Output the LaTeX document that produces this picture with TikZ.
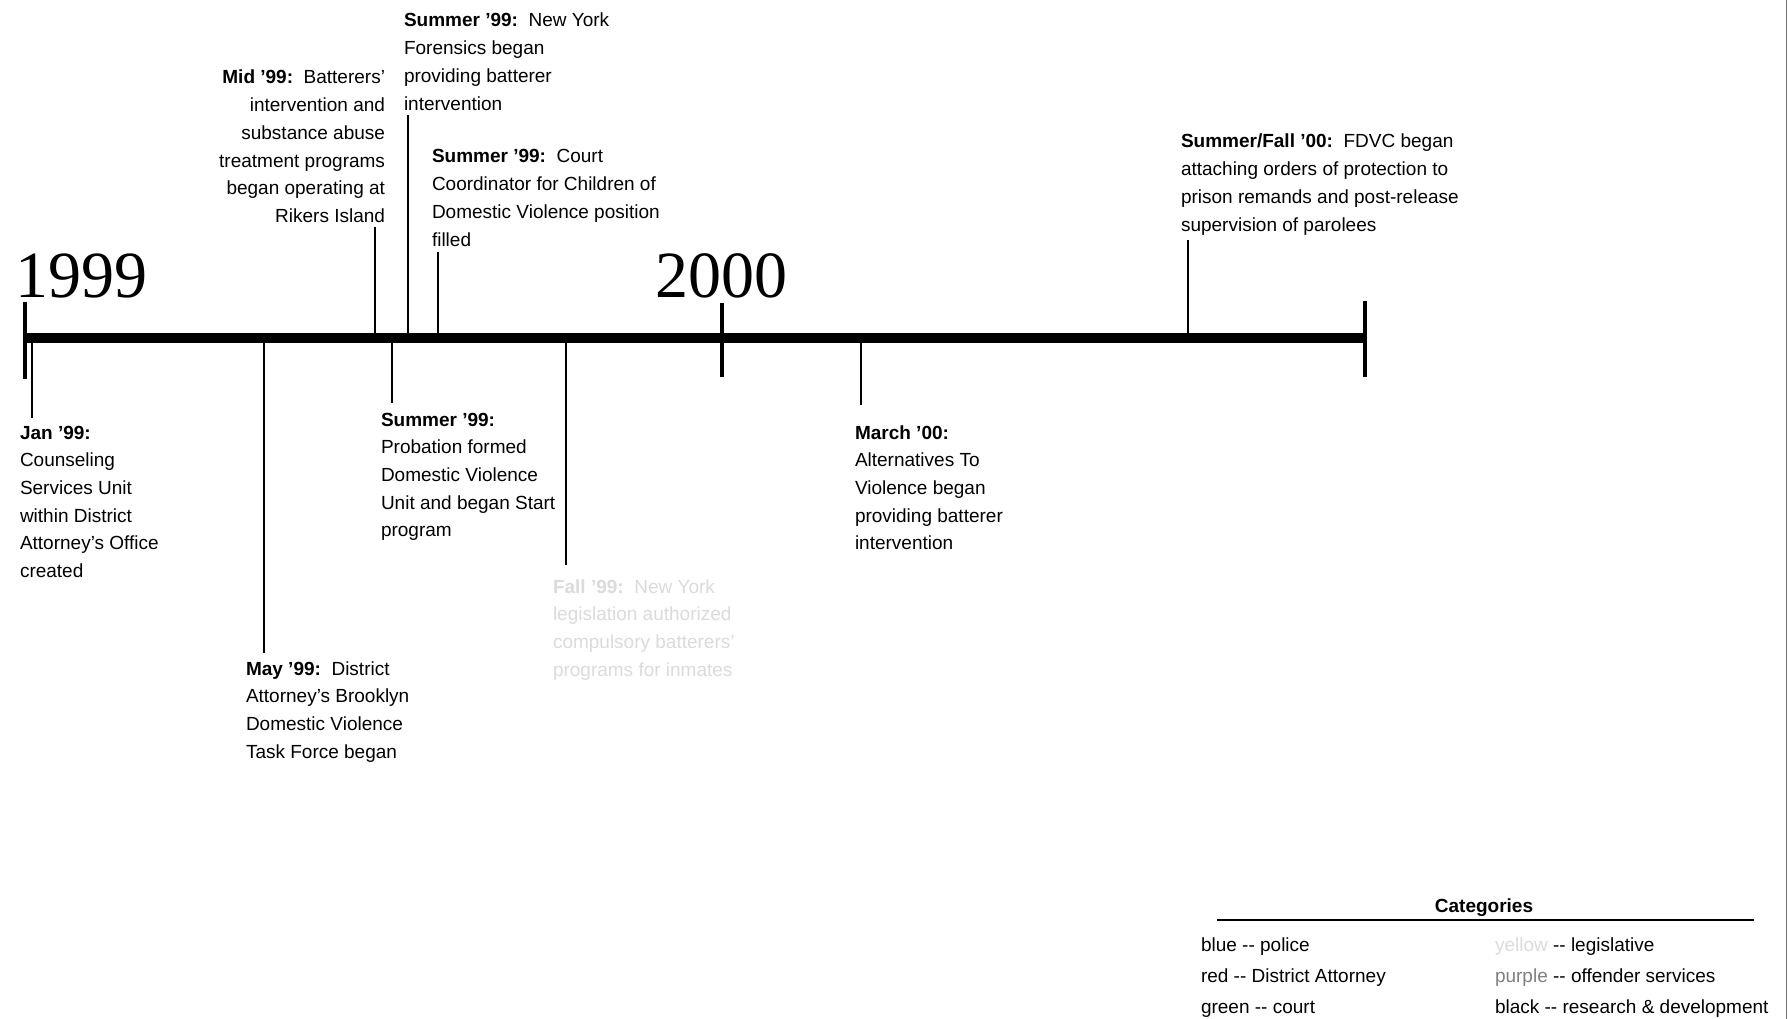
\documentclass[tikz,border=0pt]{standalone}
\usepackage{fontspec}
\setmainfont{Liberation Sans}
\newfontfamily\yearfont{Liberation Serif}
\newcommand{\bodyfs}{\fontsize{19}{27.7}\selectfont}
\definecolor{faint}{gray}{0.86}
\definecolor{purplefade}{gray}{0.5}
\begin{document}
\begin{tikzpicture}[x=1pt,y=-1pt,
  evtext/.style={inner sep=0pt, outer sep=0pt, font=\bodyfs, anchor=base west},
  evtextr/.style={inner sep=0pt, outer sep=0pt, font=\bodyfs, anchor=base east},
  yearlbl/.style={inner sep=0pt, outer sep=0pt, font=\yearfont\fontsize{66}{66}\selectfont, anchor=base west},
  axisline/.style={line width=10pt},
  yeartick/.style={line width=4pt},
  connector/.style={line width=1.5pt},
  legtext/.style={inner sep=0pt, outer sep=0pt, font=\bodyfs, anchor=base west}]
\useasboundingbox (0,0) rectangle (1788,1019);
\fill[white] (0,0) rectangle (1788,1019);

% scan border at right edge
\draw[line width=1pt, black!55] (1786,0) -- (1786,1019);

% main axis
\coordinate (axL) at (25,338);
\coordinate (axR) at (1367,338);
\draw[axisline] (axL) -- (axR);

% year ticks
\coordinate (t99a) at (25,302);  \coordinate (t99b) at (25,379);
\coordinate (t00a) at (722,303); \coordinate (t00b) at (722,377);
\coordinate (tEa) at (1365,301); \coordinate (tEb) at (1365,377);
\draw[yeartick] (t99a) -- (t99b);
\draw[yeartick] (t00a) -- (t00b);
\draw[yeartick] (tEa) -- (tEb);

% year labels
\node[yearlbl] (y1999) at (16,297) {1999};
\node[yearlbl] (y2000) at (655,297) {2000};

% event texts
\node[evtext] (jan) at (20,439) {\begin{tabular}[t]{@{}l@{}}\textbf{Jan '99:}\\Counseling\\Services Unit\\within District\\Attorney's Office\\created\end{tabular}};
\node[evtext] (may) at (246,675) {\begin{tabular}[t]{@{}l@{}}\textbf{May '99:}\ \ District\\Attorney's Brooklyn\\Domestic Violence\\Task Force began\end{tabular}};
\node[evtextr] (mid) at (385,84) {\begin{tabular}[t]{@{}r@{}}\textbf{Mid '99:}\ \ Batterers'\\intervention and\\substance abuse\\treatment programs\\began operating at\\Rikers Island\end{tabular}};
\node[evtext] (ny) at (404,27) {\begin{tabular}[t]{@{}l@{}}\textbf{Summer '99:}\ \ New York\\Forensics began\\providing batterer\\intervention\end{tabular}};
\node[evtext] (court) at (432,163) {\begin{tabular}[t]{@{}l@{}}\textbf{Summer '99:}\ \ Court\\Coordinator for Children of\\Domestic Violence position\\filled\end{tabular}};
\node[evtext] (prob) at (381,426) {\begin{tabular}[t]{@{}l@{}}\textbf{Summer '99:}\\Probation formed\\Domestic Violence\\Unit and began Start\\program\end{tabular}};
\node[evtext, text=faint] (fall) at (553,593) {\begin{tabular}[t]{@{}l@{}}\textbf{Fall '99:}\ \ New York\\legislation authorized\\compulsory batterers'\\programs for inmates\end{tabular}};
\node[evtext] (march) at (855,439) {\begin{tabular}[t]{@{}l@{}}\textbf{March '00:}\\Alternatives To\\Violence began\\providing batterer\\intervention\end{tabular}};
\node[evtext] (sf00) at (1181,148) {\begin{tabular}[t]{@{}l@{}}\textbf{Summer/Fall '00:}\ \ FDVC began\\attaching orders of protection to\\prison remands and post-release\\supervision of parolees\end{tabular}};

% connectors: axis point -> end point near text
\coordinate (janA) at (32,338);   \coordinate (janE) at (32,418);
\coordinate (mayA) at (264,338);  \coordinate (mayE) at (264,653);
\coordinate (midA) at (375,338);  \coordinate (midE) at (375,227);
\coordinate (nyA) at (408,338);   \coordinate (nyE) at (408,115);
\coordinate (courtA) at (438,338);\coordinate (courtE) at (438,252);
\coordinate (probA) at (392,338); \coordinate (probE) at (392,403);
\coordinate (fallA) at (566,338); \coordinate (fallE) at (566,565);
\coordinate (marA) at (861,338);  \coordinate (marE) at (861,405);
\coordinate (sfA) at (1188,338);  \coordinate (sfE) at (1188,240);
\draw[connector] (janA) -- (janE);
\draw[connector] (mayA) -- (mayE);
\draw[connector] (midA) -- (midE);
\draw[connector] (nyA) -- (nyE);
\draw[connector] (courtA) -- (courtE);
\draw[connector] (probA) -- (probE);
\draw[connector] (fallA) -- (fallE);
\draw[connector] (marA) -- (marE);
\draw[connector] (sfA) -- (sfE);

% legend
\node[inner sep=0pt, font=\bodyfs\bfseries, anchor=base] (cat) at (1484,912) {Categories};
\coordinate (catL) at (1217,920); \coordinate (catR) at (1754,920);
\draw[line width=2.5pt] (catL) -- (catR);
\node[legtext] (lblue) at (1201,951) {blue -{}- police};
\node[legtext] (lred) at (1201,982) {red -{}- District Attorney};
\node[legtext] (lgreen) at (1201,1013) {green -{}- court};
\node[legtext] (lleg) at (1495,951) {\textcolor{faint}{yellow} -{}- legislative};
\node[legtext] (lpur) at (1495,982) {\textcolor{purplefade}{purple} -{}- offender services};
\node[legtext] (lblk) at (1495,1013) {black -{}- research \& development};
\end{tikzpicture}
\end{document}
